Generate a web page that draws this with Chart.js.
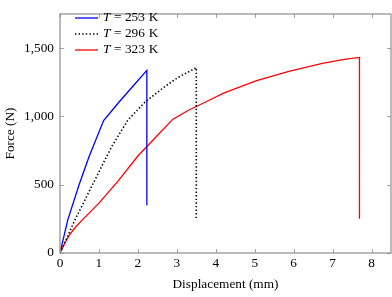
<!DOCTYPE html>
<html>
<head>
<meta charset="utf-8">
<script src="https://cdn.jsdelivr.net/npm/chart.js@4"></script>
<style>
  html, body { margin: 0; padding: 0; background: #fff; }
  #wrap { width: 392px; height: 297px; }
</style>
</head>
<body>
<div id="wrap"><canvas id="c" width="392" height="297"></canvas></div>
<script>
// ---- data ----
const seriesNames = ['253', '296', '323'];

const x253 = [0, 0.2, 0.49, 0.75, 1.12, 1.5, 1.9, 2.23, 2.23];
const y253 = [0, 243, 500, 708, 970, 1100, 1230, 1337, 350];

const x296 = [0, 0.38, 0.8, 1.2, 1.33, 1.5, 1.74, 2.18, 2.7, 3.03, 3.5, 3.5];
const y296 = [0, 240, 480, 708, 780, 860, 972, 1104, 1220, 1285, 1357, 257];

const x323 = [0, 0.12, 0.25, 0.4, 0.6, 1.0, 1.5, 2.0, 2.5, 2.9, 3.3, 3.7, 4.2, 5.05, 5.9, 6.74, 7.3, 7.69, 7.69];
const y323 = [0, 70, 135, 190, 250, 365, 530, 710, 860, 980, 1045, 1100, 1170, 1262, 1332, 1388, 1418, 1432, 250];

const xTicks = [0, 1, 2, 3, 4, 5, 6, 7, 8];
const yTicks = [0, 500, 1000, 1500];

const FONT = "'Liberation Serif', 'DejaVu Serif', serif";
const FS = 13.3;
const AXIS = '#8c8c8c';

function pts(xs, ys) {
    return xs.map((x, i) => ({ x: x, y: ys[i] }));
}

// box + inward ticks, like pgfplots
const frame = {
    id: 'frame',
    afterDatasetsDraw(chart) {
        const ctx = chart.ctx;
        const a = chart.chartArea;
        const sx = chart.scales.x, sy = chart.scales.y;
        ctx.save();
        ctx.strokeStyle = AXIS;
        ctx.lineWidth = 1.2;
        ctx.strokeRect(a.left, a.top, a.right - a.left, a.bottom - a.top);
        ctx.lineWidth = 0.8;
        ctx.beginPath();
        xTicks.forEach(t => {
            const px = Math.round(sx.getPixelForValue(t)) + 0.5;
            ctx.moveTo(px, a.bottom); ctx.lineTo(px, a.bottom - 4);
            ctx.moveTo(px, a.top); ctx.lineTo(px, a.top + 4);
        });
        yTicks.forEach(t => {
            const py = Math.round(sy.getPixelForValue(t)) + 0.5;
            ctx.moveTo(a.left, py); ctx.lineTo(a.left + 4, py);
            ctx.moveTo(a.right, py); ctx.lineTo(a.right - 4, py);
        });
        ctx.stroke();
        ctx.restore();
    }
};

// legend with italic T
const legendBox = {
    id: 'legendBox',
    afterDraw(chart) {
        const ctx = chart.ctx;
        const rows = [18, 34, 50];
        ctx.save();
        chart.data.datasets.forEach((ds, i) => {
            const y = rows[i];
            ctx.strokeStyle = ds.borderColor;
            ctx.lineWidth = ds.borderWidth;
            ctx.setLineDash(ds.borderDash || []);
            ctx.beginPath();
            ctx.moveTo(75, y); ctx.lineTo(98, y);
            ctx.stroke();
            ctx.setLineDash([]);
            ctx.fillStyle = '#000';
            ctx.textBaseline = 'middle';
            let x = 103;
            ctx.font = "italic " + FS + "px " + FONT;
            ctx.fillText('T', x, y);
            x += ctx.measureText('T').width + 3.5;
            ctx.font = FS + "px " + FONT;
            ctx.fillText('=', x, y);
            x += ctx.measureText('=').width + 3.5;
            ctx.fillText(seriesNames[i], x, y);
            x += ctx.measureText(seriesNames[i]).width + 4;
            ctx.fillText('K', x, y);
        });
        ctx.restore();
    }
};

new Chart(document.getElementById('c'), {
    type: 'line',
    data: {
        datasets: [
            { data: pts(x253, y253), borderColor: '#0000ff', borderWidth: 1.3 },
            { data: pts(x296, y296), borderColor: '#000000', borderWidth: 1.6, borderDash: [1.4, 2.2] },
            { data: pts(x323, y323), borderColor: '#ff0000', borderWidth: 1.3 }
        ]
    },
    options: {
        responsive: false,
        animation: false,
        parsing: false,
        elements: { point: { radius: 0 }, line: { tension: 0, fill: false } },
        layout: { padding: { top: 0, right: 1, left: 0, bottom: 0 } },
        plugins: { legend: { display: false }, tooltip: { enabled: false } },
        scales: {
            x: {
                type: 'linear',
                min: 0, max: 8.5,
                grid: { display: false, drawTicks: false },
                border: { display: false },
                afterBuildTicks: s => { s.ticks = xTicks.map(v => ({ value: v })); },
                afterFit: s => { s.height = 44; },
                ticks: { color: '#000', font: { family: FONT, size: FS }, padding: 3, maxRotation: 0 },
                title: { display: true, text: 'Displacement (mm)', color: '#000', font: { family: FONT, size: FS }, padding: { top: 4, bottom: 5 } }
            },
            y: {
                type: 'linear',
                min: 0, max: 1750,
                grid: { display: false, drawTicks: false },
                border: { display: false },
                afterBuildTicks: s => { s.ticks = yTicks.map(v => ({ value: v })); },
                afterFit: s => { s.width = 60; },
                ticks: { color: '#000', font: { family: FONT, size: FS }, padding: 6,
                    callback: v => v.toLocaleString('en-US') },
                title: { display: true, text: 'Force (N)', color: '#000', font: { family: FONT, size: FS }, padding: { top: 3, bottom: 0 } }
            }
        }
    },
    plugins: [frame, legendBox]
});
</script>
</body>
</html>
